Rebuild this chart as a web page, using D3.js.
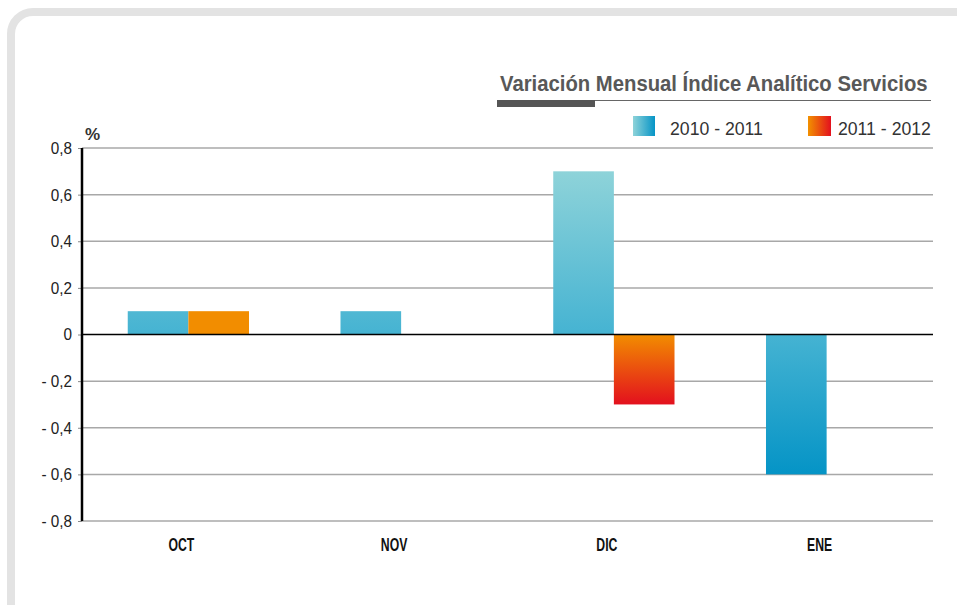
<!DOCTYPE html>
<html>
<head>
<meta charset="utf-8">
<script src="https://cdn.jsdelivr.net/npm/d3@7"></script>
<style>
  body { margin: 0; background: #fff; }
  svg { display: block; }
</style>
</head>
<body>
<svg width="957" height="605"></svg>
<script>
const months = ['OCT', 'NOV', 'DIC', 'ENE'];
const series = ['2010 - 2011', '2011 - 2012'];
const values2010 = [0.1, 0.1, 0.7, -0.6];
const values2011 = [0.1, null, -0.3, null];
const yTicks = [0.8, 0.6, 0.4, 0.2, 0, -0.2, -0.4, -0.6, -0.8];
const title = 'Variación Mensual Índice Analítico Servicios';

const svg = d3.select('svg');
const margin = {left: 82, right: 24, top: 148, bottom: 84};
const width = 957 - margin.left - margin.right;
const height = 605 - margin.top - margin.bottom;

// squeeze a text horizontally (condensed look)
function squeeze(sel, kFn) {
    sel.each(function (d, i) {
        let t = d3.select(this);
        let k = kFn(this.getComputedTextLength());
        let x = +t.attr('x'), yy = +t.attr('y');
        t.attr('transform', 'translate(' + x + ',' + yy + ') scale(' + k + ',1) translate(' + (-x) + ',' + (-yy) + ')');
    });
}

// frame
svg.append('rect')
    .attr('x', 11).attr('y', 12)
    .attr('width', 980).attr('height', 640)
    .attr('rx', 22)
    .attr('fill', '#fff')
    .attr('stroke', '#e3e3e3')
    .attr('stroke-width', 8);

const defs = svg.append('defs');

let x0 = d3.scaleBand().domain(months).range([0, width]).paddingInner(0.43).paddingOuter(0.215);
let x1 = d3.scaleBand().domain(series).range([0, x0.bandwidth()]);
let y = d3.scaleLinear().domain([-0.8, 0.8]).range([height, 0]);

// gradients in plot space
let gBlue = defs.append('linearGradient').attr('id', 'gBlue')
    .attr('gradientUnits', 'userSpaceOnUse')
    .attr('x1', 0).attr('x2', 0).attr('y1', y(0.7)).attr('y2', y(-0.6));
gBlue.append('stop').attr('offset', 0).attr('stop-color', '#8ed3d9');
gBlue.append('stop').attr('offset', 0.54).attr('stop-color', '#45b3d2');
gBlue.append('stop').attr('offset', 1).attr('stop-color', '#0594c6');

let gRed = defs.append('linearGradient').attr('id', 'gRed')
    .attr('gradientUnits', 'userSpaceOnUse')
    .attr('x1', 0).attr('x2', 0).attr('y1', y(0)).attr('y2', y(-0.3));
gRed.append('stop').attr('offset', 0).attr('stop-color', '#f28d00');
gRed.append('stop').attr('offset', 1).attr('stop-color', '#e3101e');

let lBlue = defs.append('linearGradient').attr('id', 'lBlue');
lBlue.append('stop').attr('offset', 0).attr('stop-color', '#8ed3d9');
lBlue.append('stop').attr('offset', 1).attr('stop-color', '#0594c6');
let lRed = defs.append('linearGradient').attr('id', 'lRed');
lRed.append('stop').attr('offset', 0).attr('stop-color', '#f29100');
lRed.append('stop').attr('offset', 1).attr('stop-color', '#e3101e');

const g = svg.append('g').attr('transform', 'translate(' + margin.left + ',' + margin.top + ')');

// grid
g.selectAll('line.grid')
    .data(yTicks.filter(d => d !== 0))
    .enter()
    .append('line')
    .attr('class', 'grid')
    .attr('x1', 0).attr('x2', width)
    .attr('y1', d => y(d)).attr('y2', d => y(d))
    .attr('stroke', '#a8a8a8')
    .attr('stroke-width', 1.5);

// y axis
let yAxis = d3.axisLeft(y)
    .tickValues(yTicks)
    .tickSize(4)
    .tickPadding(6)
    .tickFormat(d => (d < 0 ? '- ' : '') + d3.format('.1f')(Math.abs(d)).replace('.', ',').replace(/^0,0$/, '0'));
let ya = g.append('g').call(yAxis);
ya.select('.domain').remove();
ya.selectAll('line').attr('stroke', '#888');
ya.selectAll('text')
    .attr('fill', '#222')
    .style('font-family', 'Liberation Sans, Arial, sans-serif')
    .style('font-size', '17px')
    .each(function () {
        // condensed, right edge kept at the anchor
        d3.select(this).attr('transform', 'translate(-10,0) scale(0.9,1) translate(10,0)');
    });

// bars
let rows = months.map((m, i) => ({month: m, vals: [values2010[i], values2011[i]]}));
let groups = g.selectAll('g.month')
    .data(rows)
    .enter()
    .append('g')
    .attr('transform', d => 'translate(' + x0(d.month) + ',0)');

groups.selectAll('rect')
    .data(d => d.vals.map((v, j) => ({key: series[j], v: v, j: j})).filter(d => d.v !== null && d.v !== 0))
    .enter()
    .append('rect')
    .attr('x', d => x1(d.key))
    .attr('width', x1.bandwidth())
    .attr('y', d => y(Math.max(0, d.v)))
    .attr('height', d => Math.abs(y(d.v) - y(0)))
    .attr('fill', d => d.j === 0 ? 'url(#gBlue)' : 'url(#gRed)');

// zero line and axis line
g.append('line')
    .attr('x1', 0).attr('x2', width)
    .attr('y1', y(0)).attr('y2', y(0))
    .attr('stroke', '#000').attr('stroke-width', 1.5);
g.append('line')
    .attr('x1', 0).attr('x2', 0)
    .attr('y1', y(0.8)).attr('y2', y(-0.8))
    .attr('stroke', '#000').attr('stroke-width', 2.5);

// x labels
g.selectAll('text.month')
    .data(months)
    .enter()
    .append('text')
    .attr('class', 'month')
    .attr('x', d => x0(d) + x0.bandwidth() / 2 - 7)
    .attr('y', height + 30)
    .attr('text-anchor', 'middle')
    .style('font-family', 'Liberation Sans, Arial, sans-serif')
    .style('font-weight', 'bold')
    .style('font-size', '17.5px')
    .attr('fill', '#111')
    .text(d => d)
    .call(squeeze, () => 0.7);

// % label
svg.append('text')
    .attr('x', 85).attr('y', 140)
    .style('font-family', 'Liberation Sans, Arial, sans-serif')
    .style('font-weight', 'bold')
    .style('font-size', '17px')
    .attr('fill', '#333')
    .text('%');

// title
svg.append('text')
    .attr('x', 500).attr('y', 91)
    .style('font-family', 'Liberation Sans, Arial, sans-serif')
    .style('font-weight', 'bold')
    .style('font-size', '21.5px')
    .attr('fill', '#585858')
    .text(title)
    .call(squeeze, w => 428 / w);
svg.append('line')
    .attr('x1', 497).attr('x2', 931)
    .attr('y1', 100.5).attr('y2', 100.5)
    .attr('stroke', '#666').attr('stroke-width', 1);
svg.append('rect')
    .attr('x', 497).attr('y', 100)
    .attr('width', 98).attr('height', 7)
    .attr('fill', '#555');

// legend
let legendX = [633, 808];
let legend = svg.selectAll('g.legend')
    .data(series)
    .enter()
    .append('g')
    .attr('transform', (d, i) => 'translate(' + legendX[i] + ',116)');
legend.append('rect')
    .attr('width', (d, i) => i === 0 ? 22 : 23)
    .attr('height', 20)
    .attr('fill', (d, i) => i === 0 ? 'url(#lBlue)' : 'url(#lRed)');
legend.append('text')
    .attr('x', (d, i) => i === 0 ? 37 : 30)
    .attr('y', 19)
    .style('font-family', 'Liberation Sans, Arial, sans-serif')
    .style('font-size', '19px')
    .attr('fill', '#333')
    .text(d => d)
    .call(squeeze, w => 93 / w);
</script>
</body>
</html>
